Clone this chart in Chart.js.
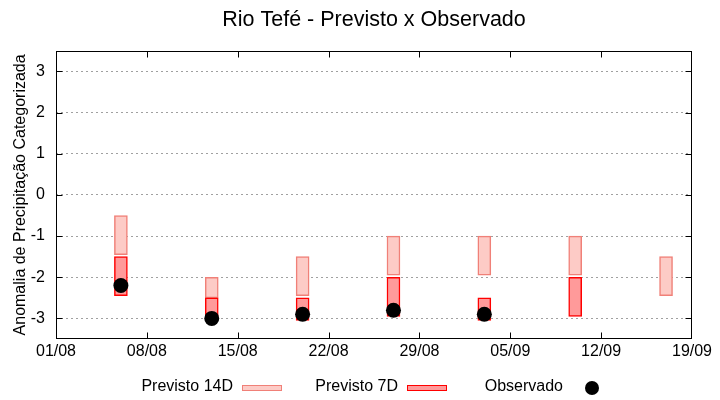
<!DOCTYPE html>
<html>
<head>
<meta charset="utf-8">
<title>Rio Tefé - Previsto x Observado</title>
<script src="https://cdn.jsdelivr.net/npm/chart.js@4.4.0/dist/chart.umd.min.js"></script>
<style>
  html, body { margin: 0; padding: 0; background: #fff; }
  #wrap { width: 720px; height: 400px; }
</style>
</head>
<body>
<div id="wrap"><canvas id="myChart" width="720" height="400"></canvas></div>
<script>
// forecast dates (dd/mm)
const dates = ["06/08", "13/08", "20/08", "27/08", "03/09", "10/09", "17/09"];

// forecast ranges [low, high] of categorized anomaly
const previsto14D = [[-1.45, -0.5], [-2.5, -2.0], [-2.45, -1.5], [-1.95, -1.0], [-1.95, -1.0], [-1.95, -1.0], [-2.45, -1.5]];
const previsto7D = [[-2.45, -1.5], [-3.0, -2.5], [-3.05, -2.5], [-2.95, -2.0], [-3.05, -2.5], [-2.95, -2.0], null];
const observado = [-2.2, -3.0, -2.9, -2.8, -2.9, null, null];

// axis ticks
const xTickLabels = ["01/08", "08/08", "15/08", "22/08", "29/08", "05/09", "12/09", "19/09"];
const yTicks = [-3, -2, -1, 0, 1, 2, 3];

const FONT = "'Liberation Sans', Arial, sans-serif";

// days since the first tick label
const toDay = (s) => {
  const [d, m] = s.split("/").map(Number);
  const [d0, m0] = xTickLabels[0].split("/").map(Number);
  return (Date.UTC(2023, m - 1, d) - Date.UTC(2023, m0 - 1, d0)) / 86400000;
};
const xTickDays = xTickLabels.map(toDay);

const toBars = (ranges) =>
  ranges
    .map((r, i) => (r ? { x: toDay(dates[i]), y: r } : null))
    .filter((p) => p);

const toPoints = (vals) =>
  vals
    .map((v, i) => (v !== null ? { x: toDay(dates[i]), y: v } : null))
    .filter((p) => p);

// frame, inward ticks and gnuplot-like key
const framePlugin = {
  id: "frame",
  afterDraw(chart) {
    const { ctx, chartArea: a, scales } = chart;
    const L = Math.round(a.left) + 0.5;
    const R = Math.round(a.right) - 0.5;
    const T = Math.round(a.top) + 0.5;
    const B = Math.round(a.bottom) - 0.5;
    const tl = 6;
    const clamp = (v, lo, hi) => Math.min(hi, Math.max(lo, v));
    ctx.save();
    ctx.strokeStyle = "#000";
    ctx.lineWidth = 1;
    ctx.setLineDash([]);
    ctx.strokeRect(L, T, R - L, B - T);
    ctx.beginPath();
    scales.x.ticks.forEach((t) => {
      const px = clamp(Math.round(scales.x.getPixelForValue(t.value)) + 0.5, L, R);
      ctx.moveTo(px, B); ctx.lineTo(px, B - tl);
      ctx.moveTo(px, T); ctx.lineTo(px, T + tl);
    });
    scales.y.ticks.forEach((t) => {
      const py = clamp(Math.round(scales.y.getPixelForValue(t.value)) + 0.5, T, B);
      ctx.moveTo(L, py); ctx.lineTo(L + tl, py);
      ctx.moveTo(R, py); ctx.lineTo(R - tl, py);
    });
    ctx.stroke();

    // key
    const keyOrder = [0, 1, 2];
    ctx.font = "16px " + FONT;
    ctx.textAlign = "right";
    ctx.textBaseline = "middle";
    keyOrder.forEach((di, i) => {
      const ds = chart.data.datasets[di];
      const sx = 242 + i * 165;
      const cy = 388;
      ctx.fillStyle = "#000";
      ctx.fillText(ds.label, sx - 9, cy - 1);
      if (ds.type === "line") {
        ctx.beginPath();
        ctx.arc(sx + 20, cy, 7, 0, Math.PI * 2);
        ctx.fillStyle = ds.pointBackgroundColor;
        ctx.fill();
      } else {
        ctx.fillStyle = ds.backgroundColor;
        ctx.fillRect(sx, cy - 3, 40, 6);
        ctx.strokeStyle = ds.borderColor;
        ctx.strokeRect(sx + 0.5, cy - 3 + 0.5, 39, 5);
      }
    });
    ctx.restore();
  },
};

const myChartRef = document.getElementById("myChart").getContext("2d");

new Chart(myChartRef, {
  type: "bar",
  data: {
    datasets: [
      {
        label: "Previsto 14D",
        data: toBars(previsto14D),
        backgroundColor: "#fdcbc6",
        borderColor: "#f08078",
        borderWidth: 1.5,
        borderSkipped: false,
        barThickness: 13,
        grouped: false,
        order: 2,
      },
      {
        label: "Previsto 7D",
        data: toBars(previsto7D),
        backgroundColor: "#ff9a9a",
        borderColor: "#ff0000",
        borderWidth: 1.5,
        borderSkipped: false,
        barThickness: 13,
        grouped: false,
        order: 1,
      },
      {
        type: "line",
        label: "Observado",
        data: toPoints(observado),
        showLine: false,
        pointRadius: 7.5,
        pointBackgroundColor: "#000",
        pointBorderColor: "#000",
        pointBorderWidth: 0,
        order: 0,
      },
    ],
  },
  options: {
    responsive: false,
    animation: false,
    devicePixelRatio: 1,
    layout: { padding: { left: 0, right: 28, top: 0, bottom: 38 } },
    plugins: {
      legend: { display: false },
      tooltip: { enabled: false },
      title: {
        display: true,
        fullSize: false,
        text: "Rio Tefé - Previsto x Observado",
        color: "#000",
        font: { family: FONT, size: 21.5, weight: "normal" },
        padding: { top: 7, bottom: 18 },
      },
    },
    scales: {
      x: {
        type: "linear",
        offset: false,
        min: xTickDays[0],
        max: xTickDays[xTickDays.length - 1],
        afterBuildTicks: (s) => {
          s.ticks = xTickDays.map((v) => ({ value: v }));
        },
        afterFit: (s) => {
          s.height = 23;
        },
        ticks: {
          color: "#000",
          font: { family: FONT, size: 16 },
          padding: 3,
          maxRotation: 0,
          autoSkip: false,
          callback: (v) => xTickLabels[xTickDays.indexOf(v)],
        },
        grid: { display: false, drawTicks: false, offset: false },
        border: { display: false },
      },
      y: {
        min: -3.5,
        max: 3.5,
        afterBuildTicks: (s) => {
          s.ticks = yTicks.map((v) => ({ value: v }));
        },
        afterFit: (s) => {
          s.width = 56;
        },
        ticks: {
          color: "#000",
          font: { family: FONT, size: 16 },
          padding: 11,
          callback: (v) => String(v),
        },
        grid: { color: "#a0a0a0", lineWidth: 1, drawTicks: false },
        border: { display: false, dash: [2, 3] },
        title: {
          display: true,
          text: "Anomalia de Precipitação Categorizada",
          color: "#000",
          font: { family: FONT, size: 16 },
          padding: { top: 11, bottom: 0 },
        },
      },
    },
  },
  plugins: [framePlugin],
});
</script>
</body>
</html>
